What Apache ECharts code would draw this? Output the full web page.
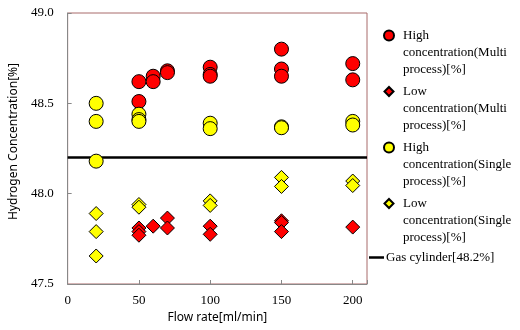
<!DOCTYPE html>
<html>
<head>
<meta charset="utf-8">
<script src="https://cdn.jsdelivr.net/npm/echarts@6/dist/echarts.min.js"></script>
<style>
  html, body { margin: 0; padding: 0; background: #fff; }
  #chart { width: 520px; height: 330px; }
</style>
</head>
<body>
<div id="chart"></div>
<script>
// [flow rate, hydrogen %]
const highMulti = [
  [50, 48.62], [50, 48.51],
  [60, 48.65], [60, 48.62],
  [70, 48.68], [70, 48.67],
  [100, 48.70], [100, 48.66], [100, 48.65],
  [150, 48.80], [150, 48.69], [150, 48.65],
  [200, 48.72], [200, 48.63],
];
const lowMulti = [
  [50, 47.81], [50, 47.79], [50, 47.77],
  [60, 47.82],
  [70, 47.865], [70, 47.81],
  [100, 47.82], [100, 47.775],
  [150, 47.85], [150, 47.84], [150, 47.79],
  [200, 47.815],
];
const highSingle = [
  [20, 48.50], [20, 48.40], [20, 48.18],
  [50, 48.44], [50, 48.41], [50, 48.40],
  [100, 48.39], [100, 48.36],
  [150, 48.37], [150, 48.365],
  [200, 48.40], [200, 48.38],
];
const lowSingle = [
  [20, 47.89], [20, 47.79], [20, 47.655],
  [50, 47.94], [50, 47.925],
  [100, 47.96], [100, 47.935],
  [150, 48.09], [150, 48.04],
  [200, 48.07], [200, 48.045],
];
const gasCylinder = [[0, 48.2], [210, 48.2]];

const seriesNames = [
  "High\nconcentration(Multi\nprocess)[%]",
  "Low\nconcentration(Multi\nprocess)[%]",
  "High\nconcentration(Single\nprocess)[%]",
  "Low\nconcentration(Single\nprocess)[%]",
  "Gas cylinder[48.2%]",
];

const SERIF = "'Liberation Serif', 'DejaVu Serif', serif";
const SANS = "'Noto Sans', 'DejaVu Sans', sans-serif";

// legend icons sit on the first text line: the shape is drawn near the top of
// a 12x51 box whose corners are pinned with zero-length segments
const PIN = "M0,0 L0,0 M12,51 L12,51 ";
const ICON_CIRCLE = "path://" + PIN + "M1,8.5 A5,5 0 1,1 11,8.5 A5,5 0 1,1 1,8.5 Z";
const ICON_DIAMOND = "path://" + PIN + "M6,4 L10.5,8.5 L6,13 L1.5,8.5 Z";

function scatter(name, data, symbol, color, size) {
  return {
    type: "scatter",
    name: name,
    data: data,
    symbol: symbol,
    symbolSize: size,
    itemStyle: { color: color, borderColor: "#000", borderWidth: 1, opacity: 1 },
  };
}

const legendText = { fontFamily: SERIF, fontSize: 13, color: "#000", lineHeight: 17 };

const chart = echarts.init(document.getElementById("chart"));
chart.setOption({
  animation: false,
  grid: {
    left: 65, right: 153, top: 13, bottom: 46,
    show: true, borderColor: "#a86a6a", borderWidth: 1,
  },
  legend: [
    {
      orient: "vertical",
      left: 382,
      top: 26,
      padding: 0,
      itemGap: 3,
      itemWidth: 12,
      itemHeight: 51,
      textStyle: Object.assign({ padding: [0, 0, 0, 3] }, legendText),
      data: [
        { name: seriesNames[0], icon: ICON_CIRCLE },
        { name: seriesNames[1], icon: ICON_DIAMOND },
        { name: seriesNames[2], icon: ICON_CIRCLE },
        { name: seriesNames[3], icon: ICON_DIAMOND },
      ],
    },
    {
      left: 369,
      top: 249,
      padding: 0,
      itemWidth: 15,
      itemHeight: 2.5,
      textStyle: Object.assign({ padding: [0, 0, 0, -3] }, legendText),
      data: [{ name: seriesNames[4], icon: "rect", itemStyle: { color: "#000" } }],
    },
  ],
  xAxis: {
    type: "value",
    min: 0, max: 210, interval: 50,
    name: "Flow rate[ml/min]",
    nameLocation: "middle",
    nameGap: 27,
    nameTextStyle: { fontFamily: SANS, fontSize: 12, color: "#000" },
    axisLine: { lineStyle: { color: "#888" } },
    axisTick: { inside: true, length: 4, lineStyle: { color: "#888" } },
    axisLabel: {
      fontFamily: SERIF, fontSize: 13, color: "#000", margin: 10,
      formatter: (v) => (v > 200 ? "" : v),
    },
    splitLine: { show: false },
  },
  yAxis: {
    type: "value",
    min: 47.5, max: 49.0, interval: 0.5,
    name: "Hydrogen Concentration[%]",
    nameLocation: "middle",
    nameGap: 41,
    nameTextStyle: { fontFamily: SANS, fontSize: 12, color: "#000", padding: [0, 0, 0, 14] },
    axisLine: { show: true, lineStyle: { color: "#888" } },
    axisTick: { show: true, inside: true, length: 4, lineStyle: { color: "#888" } },
    axisLabel: {
      fontFamily: SERIF, fontSize: 13, color: "#000", margin: 14,
      formatter: (v) => v.toFixed(1),
    },
    splitLine: { show: false },
  },
  series: [
    scatter(seriesNames[0], highMulti, "circle", "#ff0000", 14),
    scatter(seriesNames[1], lowMulti, "diamond", "#ff0000", 14),
    scatter(seriesNames[2], highSingle, "circle", "#ffff00", 14),
    scatter(seriesNames[3], lowSingle, "diamond", "#ffff00", 14),
    {
      type: "line",
      name: seriesNames[4],
      data: gasCylinder,
      symbol: "none",
      z: 1,
      lineStyle: { color: "#000", width: 2.5 },
      itemStyle: { color: "#000" },
    },
  ],
});
</script>
</body>
</html>
